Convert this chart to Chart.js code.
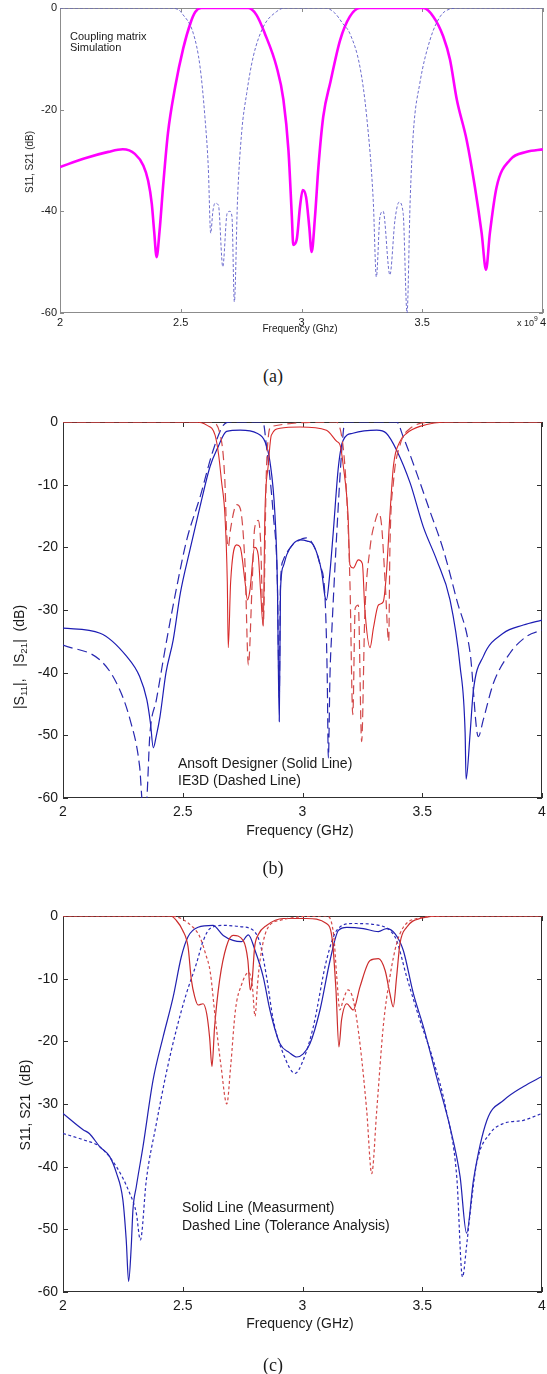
<!DOCTYPE html>
<html lang="en">
<head>
<meta charset="UTF-8">
<title>Filter responses</title>
<style>
  body { margin: 0; background: #fff; }
  #page { position: relative; width: 547px; height: 1374px; font-family: "Liberation Sans", Arial, sans-serif; color: #1a1a1a; }
  canvas { position: absolute; left: 0; }
  .t { position: absolute; white-space: nowrap; line-height: 1; }
  .c { transform: translate(-50%, -50%); }
  .l { transform: translateY(-50%); }
  .v { transform: translate(-50%, -50%) rotate(-90deg); }
  .cap { font-family: "Liberation Serif", "Times New Roman", serif; font-size: 18px; }
  sub { font-size: 70%; vertical-align: -3px; }
  sup { font-size: 75%; vertical-align: 5px; }
</style>
</head>
<body>
<div id="page">
  <canvas id="chartA" width="547" height="340" style="top:0px"></canvas>
  <canvas id="chartB" width="547" height="425" style="top:400px"></canvas>
  <canvas id="chartC" width="547" height="430" style="top:890px"></canvas>

  <!-- (a) -->
  <div class="t l" style="left:70px;top:36px;font-size:11px">Coupling matrix</div>
  <div class="t l" style="left:70px;top:47px;font-size:11px">Simulation</div>
  <div class="t v" style="left:30px;top:162px;font-size:10px">S11, S21 (dB)</div>
  <div class="t c" style="left:300px;top:329px;font-size:10px">Frequency (Ghz)</div>
  <div class="t l" style="left:517px;top:322px;font-size:9px">x 10<sup>9</sup></div>
  <div class="t c cap" style="left:273px;top:376px">(a)</div>

  <!-- (b) -->
  <div class="t v" style="left:20px;top:657px;font-size:14px">|S<sub>11</sub>|,&nbsp;&nbsp; |S<sub>21</sub>| &nbsp;(dB)</div>
  <div class="t c" style="left:300px;top:830px;font-size:14px">Frequency (GHz)</div>
  <div class="t l" style="left:178px;top:763px;font-size:14px">Ansoft Designer (Solid Line)</div>
  <div class="t l" style="left:178px;top:780px;font-size:14px">IE3D (Dashed Line)</div>
  <div class="t c cap" style="left:273px;top:868px">(b)</div>

  <!-- (c) -->
  <div class="t v" style="left:25px;top:1105px;font-size:14px">S11, S21 &nbsp;(dB)</div>
  <div class="t c" style="left:300px;top:1323px;font-size:14px">Frequency (GHz)</div>
  <div class="t l" style="left:182px;top:1207px;font-size:14px">Solid Line (Measurment)</div>
  <div class="t l" style="left:182px;top:1225px;font-size:14px">Dashed Line (Tolerance Analysis)</div>
  <div class="t c cap" style="left:273px;top:1365px">(c)</div>
</div>

<script src="https://cdn.jsdelivr.net/npm/chart.js@4.4.1/dist/chart.umd.min.js"></script>
<script>
// tick labels
const xTicks = [2, 2.5, 3, 3.5, 4];
const yTicksA = [-60, -40, -20, 0];
const yTicksBC = [-60, -50, -40, -30, -20, -10, 0];

// (a) coupling matrix simulation: S11 (magenta) and S21 (blue dashed), GHz / dB
const aMagF  = [2.00,2.10,2.20,2.26,2.31,2.345,2.365,2.38,2.39,2.40,2.412,2.427,2.447,2.477,2.51,2.54,2.56,2.585,2.78,2.814,2.848,2.897,2.925,2.946,2.96,2.966,2.98,2.994,3.005,3.019,3.032,3.042,3.056,3.07,3.09,3.12,3.16,3.2,3.242,3.504,3.546,3.587,3.615,3.643,3.684,3.718,3.746,3.764,3.78,3.808,3.863,3.933,4.00];
const aMagDb = [-31.3,-29.6,-28.3,-27.8,-28.7,-31,-34,-38.5,-44,-49,-44,-35,-24.6,-15.5,-8,-3,-0.8,0,0,-1.4,-5,-11.6,-18,-28,-41,-46.6,-45.6,-39,-35.8,-37.2,-43,-48,-41,-31.3,-21.4,-14.5,-6.3,-1.7,0,0,-1.7,-5.6,-10.2,-18,-26,-35.2,-44.3,-51.5,-44.3,-35.2,-29.9,-28.3,-27.8];
const aDashF  = [2.00,2.45,2.49,2.504,2.552,2.58,2.60,2.614,2.624,2.633,2.642,2.656,2.674,2.692,2.703,2.712,2.722,2.735,2.752,2.773,2.80,2.842,2.897,2.93,3.10,3.138,3.17,3.20,3.242,3.27,3.297,3.31,3.325,3.338,3.366,3.387,3.404,3.421,3.437,3.45,3.463,3.49,3.532,3.574,3.615,3.66,4.00];
const aDashDb = [0,0,-0.3,-1,-5,-11.6,-21.4,-31.3,-44.3,-40,-38.4,-38.8,-50.9,-40.4,-40,-41,-57.8,-37.8,-24.6,-16.8,-9.6,-3.7,-0.7,0,0,-1,-3,-5,-11.6,-21.4,-37.8,-52.9,-41,-40,-52.5,-41.7,-38.2,-40.4,-60,-37.8,-24.6,-14.8,-6.3,-1.7,-0.2,0,0];

// (b) Ansoft Designer (solid) vs IE3D (dashed)
const bS11SolidF  = [2.00,2.155,2.266,2.32,2.35,2.365,2.377,2.39,2.405,2.43,2.46,2.49,2.53,2.572,2.614,2.645,2.683,2.74,2.81,2.843,2.864,2.885,2.895,2.903,2.908,2.92,2.934,2.96,2.99,3.02,3.045,3.08,3.094,3.10,3.112,3.128,3.15,3.17,3.21,3.31,3.35,3.393,3.45,3.504,3.56,3.616,3.658,3.679,3.683,3.70,3.713,3.755,3.838,3.922,4.00];
const bS11SolidDb = [-32.9,-33.7,-37.4,-40.6,-44.3,-48,-52,-50,-47,-40,-34.8,-27.3,-20.4,-13.5,-7.1,-4.2,-1.5,-1.3,-1.8,-3.1,-6.3,-14.8,-25.5,-47.8,-27,-23,-21.2,-19.5,-18.8,-19,-19.6,-23.9,-27.9,-28.4,-25,-17.8,-7.1,-2.9,-1.8,-1.3,-1.8,-4.5,-9.8,-16.7,-22,-28.4,-39,-49.6,-57,-49.6,-43,-37.4,-33.7,-32.4,-31.6];
const bS11DashF  = [2.00,2.155,2.224,2.28,2.32,2.333,2.347,2.363,2.39,2.433,2.475,2.516,2.572,2.627,2.67,2.70,2.835,2.85,2.878,2.895,2.903,2.908,2.92,2.95,2.976,3.017,3.05,3.073,3.094,3.103,3.108,3.115,3.122,3.143,3.164,3.177,3.393,3.42,3.477,3.53,3.588,3.644,3.70,3.734,3.755,3.797,3.866,3.936,4.00];
const bS11DashDb = [-35.6,-38,-41.7,-47.5,-55,-61,-61,-49.7,-44.3,-34.8,-26.3,-18.9,-12,-4.5,-0.5,0,0,-4.1,-14.8,-25.5,-44,-26,-22,-20,-19.1,-18.5,-20,-22.8,-28,-40,-53.6,-40,-33.7,-17.8,-4.5,0,0,-2.3,-8.2,-14,-20.4,-28.4,-36.9,-50.2,-47.5,-41.7,-36.9,-34.2,-33.2];
const bS21SolidF  = [2.00,2.55,2.60,2.635,2.65,2.662,2.676,2.686,2.69,2.70,2.725,2.74,2.76,2.77,2.78,2.80,2.815,2.825,2.836,2.843,2.857,2.87,2.906,2.99,3.10,3.143,3.157,3.17,3.19,3.198,3.212,3.233,3.25,3.26,3.282,3.296,3.317,3.337,3.35,3.365,3.38,3.407,3.435,3.49,3.62,4.00];
const bS21SolidDb = [0,0,-0.5,-2.1,-5.3,-9.5,-14.8,-25.5,-36,-25.5,-19.6,-20,-25.5,-28.4,-27,-20,-21.2,-27,-32.6,-14.8,-6.9,-2.1,-1,-0.8,-1.3,-3.1,-3.7,-6.9,-14.8,-22.8,-23.3,-22,-22.6,-29.7,-36,-32.9,-29.2,-28.7,-24.4,-14.8,-6.9,-3.1,-1.8,-0.7,0,0];
const bS21DashF  = [2.00,2.62,2.662,2.676,2.683,2.69,2.70,2.725,2.74,2.76,2.774,2.79,2.80,2.815,2.825,2.836,2.85,2.87,3.14,3.17,3.185,3.198,3.21,3.22,3.233,3.247,3.26,3.282,3.303,3.317,3.33,3.345,3.36,3.365,3.38,3.407,3.45,3.55,4.00];
const bS21DashDb = [0,0,-3.1,-9.5,-17.5,-20,-17,-13.2,-13.8,-22.8,-38.8,-25.5,-17,-15.7,-19,-32.4,-6.9,-0.7,0,-4.1,-12.1,-25.5,-46.7,-29.7,-29.2,-51,-31,-20.1,-15.9,-14.5,-16.4,-25.5,-35,-20.1,-9.5,-3.7,-1,0,0];

// (c) measurement (solid) vs tolerance analysis (dashed)
const cS11SolidF  = [2.00,2.084,2.11,2.153,2.195,2.223,2.25,2.264,2.274,2.285,2.292,2.306,2.334,2.376,2.418,2.46,2.494,2.522,2.564,2.626,2.669,2.71,2.745,2.774,2.802,2.836,2.864,2.906,2.945,2.976,3.003,3.031,3.073,3.115,3.15,3.185,3.254,3.317,3.351,3.386,3.421,3.463,3.505,3.56,3.616,3.658,3.685,3.714,3.77,3.84,3.923,4.00];
const cS11SolidDb = [-31.5,-34.1,-34.7,-36.8,-38.4,-41,-45.3,-51.7,-58.3,-52.7,-46.9,-43.2,-36.8,-26.2,-19.3,-12.9,-6.5,-3.3,-1.8,-1.5,-3.1,-3.9,-4.1,-3,-5.5,-9.7,-15,-20.4,-21.8,-22.5,-22,-20.4,-15,-7.1,-2.3,-1.8,-2,-2.5,-2,-2.8,-5.5,-12.4,-17.7,-25.7,-33.7,-41.6,-50.6,-42.1,-32.6,-29.4,-27.2,-25.6];
const cS11DashF  = [2.00,2.084,2.153,2.223,2.278,2.306,2.323,2.348,2.39,2.431,2.473,2.515,2.557,2.585,2.614,2.67,2.74,2.795,2.823,2.85,2.878,2.92,2.969,3.003,3.045,3.10,3.143,3.21,3.32,3.365,3.393,3.435,3.49,3.546,3.60,3.644,3.668,3.686,3.70,3.727,3.783,3.84,3.922,4.00];
const cS11DashDb = [-34.7,-35.7,-36.8,-40,-44.2,-47.4,-51.7,-42.1,-33.1,-25.1,-18.2,-12.4,-7.6,-4,-2,-1.5,-1.7,-2.3,-4.4,-9.7,-16.6,-22,-25.1,-23,-17.7,-7.1,-2.3,-1.2,-1.5,-2.3,-3.9,-9.7,-16.6,-23,-31,-41.6,-57.6,-52.3,-47.4,-39.5,-34.7,-33.1,-32.6,-31.5];
const cS21SolidF  = [2.00,2.45,2.473,2.50,2.522,2.536,2.55,2.564,2.585,2.60,2.612,2.622,2.633,2.654,2.682,2.71,2.752,2.772,2.782,2.79,2.80,2.815,2.85,2.92,3.017,3.10,3.125,3.14,3.152,3.163,3.185,3.212,3.24,3.282,3.317,3.345,3.365,3.379,3.393,3.407,3.435,3.49,3.60,4.00];
const cS21SolidDb = [0,0,-0.7,-2.3,-4.9,-10.2,-12.9,-14.2,-14,-15.6,-19.3,-24,-17.7,-10.2,-4.9,-3.1,-3.9,-7.1,-11.8,-10.2,-5,-3,-1.5,-0.4,-0.4,-1.2,-4,-12,-20.9,-16.6,-14,-15,-11.3,-7.1,-6.8,-8.7,-12.4,-14.5,-9.7,-4.4,-1.8,-0.4,0,0];
const cS21DashF  = [2.00,2.45,2.543,2.571,2.595,2.615,2.635,2.66,2.684,2.70,2.72,2.745,2.775,2.79,2.802,2.812,2.823,2.85,2.906,3.10,3.13,3.143,3.156,3.17,3.19,3.212,3.24,3.268,3.289,3.31,3.337,3.365,3.393,3.421,3.477,3.60,4.00];
const cS21DashDb = [0,0,-1.8,-3.3,-6,-9,-16,-24,-30,-24,-15,-11,-9,-11,-16,-11,-7,-2.3,-0.7,0,-3,-9.7,-15,-13.4,-11.8,-13.4,-20.4,-31,-41.1,-31,-17.7,-9.7,-4.4,-1.8,-0.4,0,0];

function pts(f, db) {
    return f.map(function (v, i) { return { x: v, y: db[i] }; });
}

// box round the plot with inward ticks on all four sides
const frameTicks = {
    id: 'frameTicks',
    beforeDatasetsDraw: function (chart, args, o) {
        const ctx = chart.ctx, a = chart.chartArea;
        const xs = chart.scales.x, ys = chart.scales.y;
        ctx.save();
        ctx.strokeStyle = o.color;
        ctx.lineWidth = 1;
        ctx.strokeRect(a.left + 0.5, a.top + 0.5, a.right - a.left - 1, a.bottom - a.top - 1);
        ctx.beginPath();
        xs.ticks.forEach(function (t) {
            const p = Math.round(xs.getPixelForValue(t.value)) + 0.5;
            ctx.moveTo(p, a.bottom); ctx.lineTo(p, a.bottom - o.len);
            ctx.moveTo(p, a.top); ctx.lineTo(p, a.top + o.len);
        });
        ys.ticks.forEach(function (t) {
            const p = Math.round(ys.getPixelForValue(t.value)) + 0.5;
            ctx.moveTo(a.left, p); ctx.lineTo(a.left + o.len, p);
            ctx.moveTo(a.right, p); ctx.lineTo(a.right - o.len, p);
        });
        ctx.stroke();
        ctx.restore();
    }
};

function line(data, color, width, dash) {
    return {
        data: data, borderColor: color, borderWidth: width, borderDash: dash || [],
        pointRadius: 0, fill: false, cubicInterpolationMode: 'monotone'
    };
}

function makeChart(id, datasets, o) {
    return new Chart(id, {
        type: 'line',
        data: { datasets: datasets },
        plugins: [frameTicks],
        options: {
            responsive: false,
            devicePixelRatio: 1,
            animation: false,
            events: [],
            layout: { padding: { top: o.top, right: o.right, left: 0, bottom: 0 } },
            plugins: {
                legend: { display: false },
                tooltip: { enabled: false },
                frameTicks: { color: o.frame, len: o.tick }
            },
            scales: {
                x: {
                    type: 'linear', min: 2, max: 4,
                    afterBuildTicks: function (s) { s.ticks = xTicks.map(function (v) { return { value: v }; }); },
                    afterFit: function (s) { s.height = o.xh; s.paddingLeft = 0; s.paddingRight = 0; },
                    grid: { display: false, drawTicks: false },
                    border: { display: false },
                    ticks: {
                        color: '#1a1a1a', padding: o.xpad, maxRotation: 0, autoSkip: false,
                        font: { family: 'Liberation Sans', size: o.fs },
                        callback: function (v) { return String(v); }
                    }
                },
                y: {
                    type: 'linear', min: -60, max: 0,
                    afterBuildTicks: function (s) { s.ticks = o.yTicks.map(function (v) { return { value: v }; }); },
                    afterFit: function (s) { s.width = o.yw; s.paddingTop = 0; s.paddingBottom = 0; },
                    grid: { display: false, drawTicks: false },
                    border: { display: false },
                    ticks: {
                        color: '#1a1a1a', padding: o.ypad, autoSkip: false,
                        font: { family: 'Liberation Sans', size: o.fs },
                        callback: function (v) { return String(v); }
                    }
                }
            }
        }
    });
}

makeChart('chartA', [
    line(pts(aDashF, aDashDb), '#5c5cc8', 0.9, [3, 2]),
    line(pts(aMagF, aMagDb), '#ff00ff', 2.6)
], { top: 8, right: 4, xh: 27, yw: 60, fs: 11, xpad: 3, ypad: 3, yTicks: yTicksA, frame: '#8c8c8c', tick: 4 });

makeChart('chartB', [
    line(pts(bS21DashF, bS21DashDb), '#d24a4a', 1.2, [9, 5]),
    line(pts(bS21SolidF, bS21SolidDb), '#d82a2a', 1.1),
    line(pts(bS11DashF, bS11DashDb), '#2828b0', 1.2, [10, 5]),
    line(pts(bS11SolidF, bS11SolidDb), '#1c1cb4', 1.2)
], { top: 22, right: 5, xh: 27, yw: 63, fs: 14, xpad: 6, ypad: 5, yTicks: yTicksBC, frame: '#303030', tick: 5 });

makeChart('chartC', [
    line(pts(cS21DashF, cS21DashDb), '#d44848', 1.2, [3, 2.5]),
    line(pts(cS21SolidF, cS21SolidDb), '#cc2c2c', 1.2),
    line(pts(cS11DashF, cS11DashDb), '#2a2ab8', 1.2, [3, 2.5]),
    line(pts(cS11SolidF, cS11SolidDb), '#2020b0', 1.2)
], { top: 26, right: 5, xh: 28, yw: 63, fs: 14, xpad: 6, ypad: 5, yTicks: yTicksBC, frame: '#303030', tick: 5 });
</script>
</body>
</html>
